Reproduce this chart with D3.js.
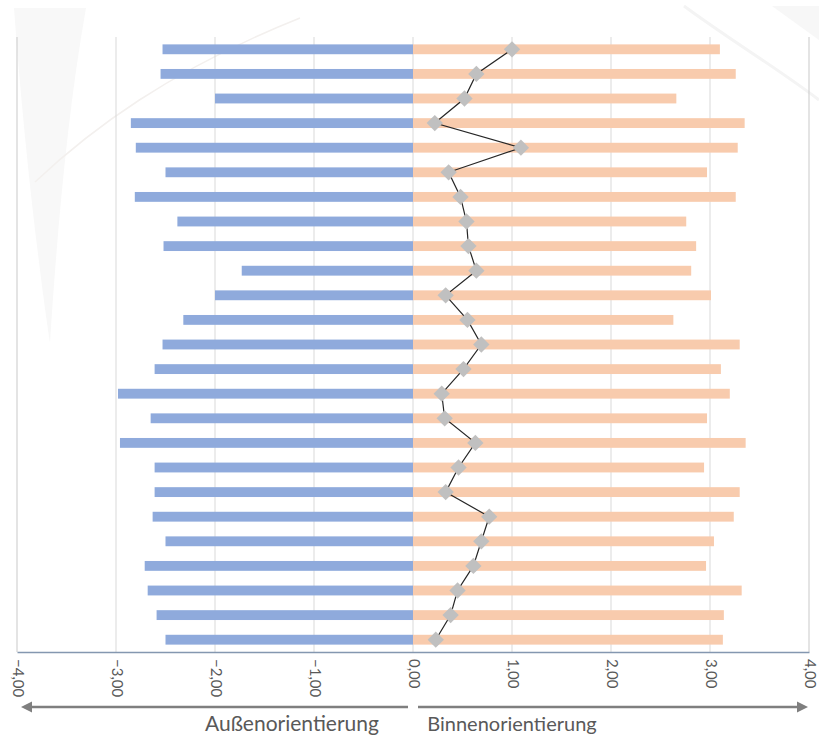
<!DOCTYPE html>
<html>
<head>
<meta charset="utf-8">
<script src="https://cdn.jsdelivr.net/npm/d3@7"></script>
<style>
  html, body { margin: 0; padding: 0; background: #ffffff; }
  svg { display: block; }
</style>
</head>
<body>
<svg id="chart" width="819" height="736"></svg>
<script>
// Items (rows, top to bottom)
const categories = ["1","2","3","4","5","6","7","8","9","10","11","12","13","14","15","16","17","18","19","20","21","22","23","24","25"];
// Außenorientierung (negative side)
const outward = [-2.53,-2.55,-2.00,-2.85,-2.80,-2.50,-2.81,-2.38,-2.52,-1.73,-2.00,-2.32,-2.53,-2.61,-2.98,-2.65,-2.96,-2.61,-2.61,-2.63,-2.50,-2.71,-2.68,-2.59,-2.50];
// Binnenorientierung (positive side)
const inward = [3.10,3.26,2.66,3.35,3.28,2.97,3.26,2.76,2.86,2.81,3.01,2.63,3.30,3.11,3.20,2.97,3.36,2.94,3.30,3.24,3.04,2.96,3.32,3.14,3.13];
// Balance line (diamond markers)
const balance = [1.00,0.64,0.52,0.22,1.09,0.36,0.48,0.54,0.56,0.64,0.33,0.55,0.69,0.51,0.29,0.32,0.63,0.46,0.33,0.77,0.69,0.61,0.45,0.38,0.23];
const tickValues = [-4,-3,-2,-1,0,1,2,3,4];
const directionLabels = ["Außenorientierung", "Binnenorientierung"];

const svg = d3.select("#chart");
const plot = { left: 17, right: 809, top: 37, bottom: 652 };

// faint background emblem
const bg = svg.append("g").attr("fill", "none");
bg.append("path")
  .attr("d", "M14,8 C22,120 36,250 50,343 C56,250 66,120 86,8 Z")
  .attr("fill", "#f8f8f8").attr("stroke", "none");
bg.append("path")
  .attr("d", "M35,182 C90,130 170,70 300,18")
  .attr("stroke", "#f3f0ee").attr("stroke-width", 1.5);
bg.append("path")
  .attr("d", "M684,6 C730,40 780,70 819,100")
  .attr("stroke", "#f4f4f4").attr("stroke-width", 3);
bg.append("path")
  .attr("d", "M772,6 L819,6 L819,40 Z")
  .attr("fill", "#f7f7f7").attr("stroke", "none");

const x = d3.scaleLinear().domain([-4, 4]).range([plot.left, plot.right]);
const y = d3.scaleBand().domain(categories)
  .range([plot.top, plot.bottom]).paddingInner(0.6).paddingOuter(0.3);
const yc = d => y(d) + y.bandwidth() / 2;

// vertical gridlines
svg.append("g").selectAll("line").data(tickValues).join("line")
  .attr("x1", d => x(d)).attr("x2", d => x(d))
  .attr("y1", plot.top).attr("y2", plot.bottom)
  .attr("stroke", d => (d === -4 || d === 4) ? "#c9c9c9" : "#d9d9d9")
  .attr("stroke-width", 1);

// bars
svg.append("g").selectAll("rect").data(categories).join("rect")
  .attr("x", (c, i) => x(outward[i])).attr("y", c => y(c))
  .attr("width", (c, i) => x(0) - x(outward[i])).attr("height", y.bandwidth())
  .attr("fill", "#8faadc");
svg.append("g").selectAll("rect").data(categories).join("rect")
  .attr("x", x(0)).attr("y", c => y(c))
  .attr("width", (c, i) => x(inward[i]) - x(0)).attr("height", y.bandwidth())
  .attr("fill", "#f8cbad");

// balance line with diamonds
const line = d3.line().x((c, i) => x(balance[i])).y(c => yc(c));
svg.append("path").datum(categories).attr("d", line)
  .attr("fill", "none").attr("stroke", "#262626").attr("stroke-width", 1.2);
svg.append("g").selectAll("path").data(categories).join("path")
  .attr("d", d3.symbol(d3.symbolDiamond2, 170))
  .attr("transform", (c, i) => `translate(${x(balance[i])},${yc(c)})`)
  .attr("fill", "#c0c0c0");

// x axis
const xAxis = d3.axisBottom(x).tickValues(tickValues).tickSize(0)
  .tickFormat(d => d3.format(".2f")(d).replace(".", ","));
const ax = svg.append("g").attr("transform", `translate(0,${plot.bottom})`).call(xAxis);
ax.select(".domain").attr("stroke", "#8497b0").attr("stroke-width", 1.3);
ax.selectAll("text")
  .attr("transform", "rotate(90)")
  .attr("x", 7).attr("y", 0).attr("dy", "0.32em")
  .attr("text-anchor", "start")
  .attr("font-family", "Lato, sans-serif").attr("font-size", 15)
  .attr("fill", "#595959");

// direction arrows
const defs = svg.append("defs");
defs.append("marker").attr("id", "ah").attr("viewBox", "0 0 10 10")
  .attr("refX", 2).attr("refY", 5).attr("markerWidth", 4.5).attr("markerHeight", 4.5)
  .attr("orient", "auto-start-reverse").attr("markerUnits", "strokeWidth")
  .append("path").attr("d", "M0,0 L10,5 L0,10 Z").attr("fill", "#7f7f7f");
const arrowY = 707;
svg.append("line").attr("x1", x(0) - 5).attr("x2", x(-4) + 13)
  .attr("y1", arrowY).attr("y2", arrowY)
  .attr("stroke", "#7f7f7f").attr("stroke-width", 2.5).attr("marker-end", "url(#ah)");
svg.append("line").attr("x1", x(0) + 5).attr("x2", x(4) - 10)
  .attr("y1", arrowY).attr("y2", arrowY)
  .attr("stroke", "#7f7f7f").attr("stroke-width", 2.5).attr("marker-end", "url(#ah)");

svg.append("text").attr("x", 292).attr("y", 731).attr("text-anchor", "middle")
  .attr("font-family", "Lato, sans-serif").attr("font-size", 21).attr("fill", "#595959")
  .text(directionLabels[0]);
svg.append("text").attr("x", 512).attr("y", 731).attr("text-anchor", "middle")
  .attr("font-family", "Lato, sans-serif").attr("font-size", 20).attr("fill", "#595959")
  .text(directionLabels[1]);
</script>
</body>
</html>
